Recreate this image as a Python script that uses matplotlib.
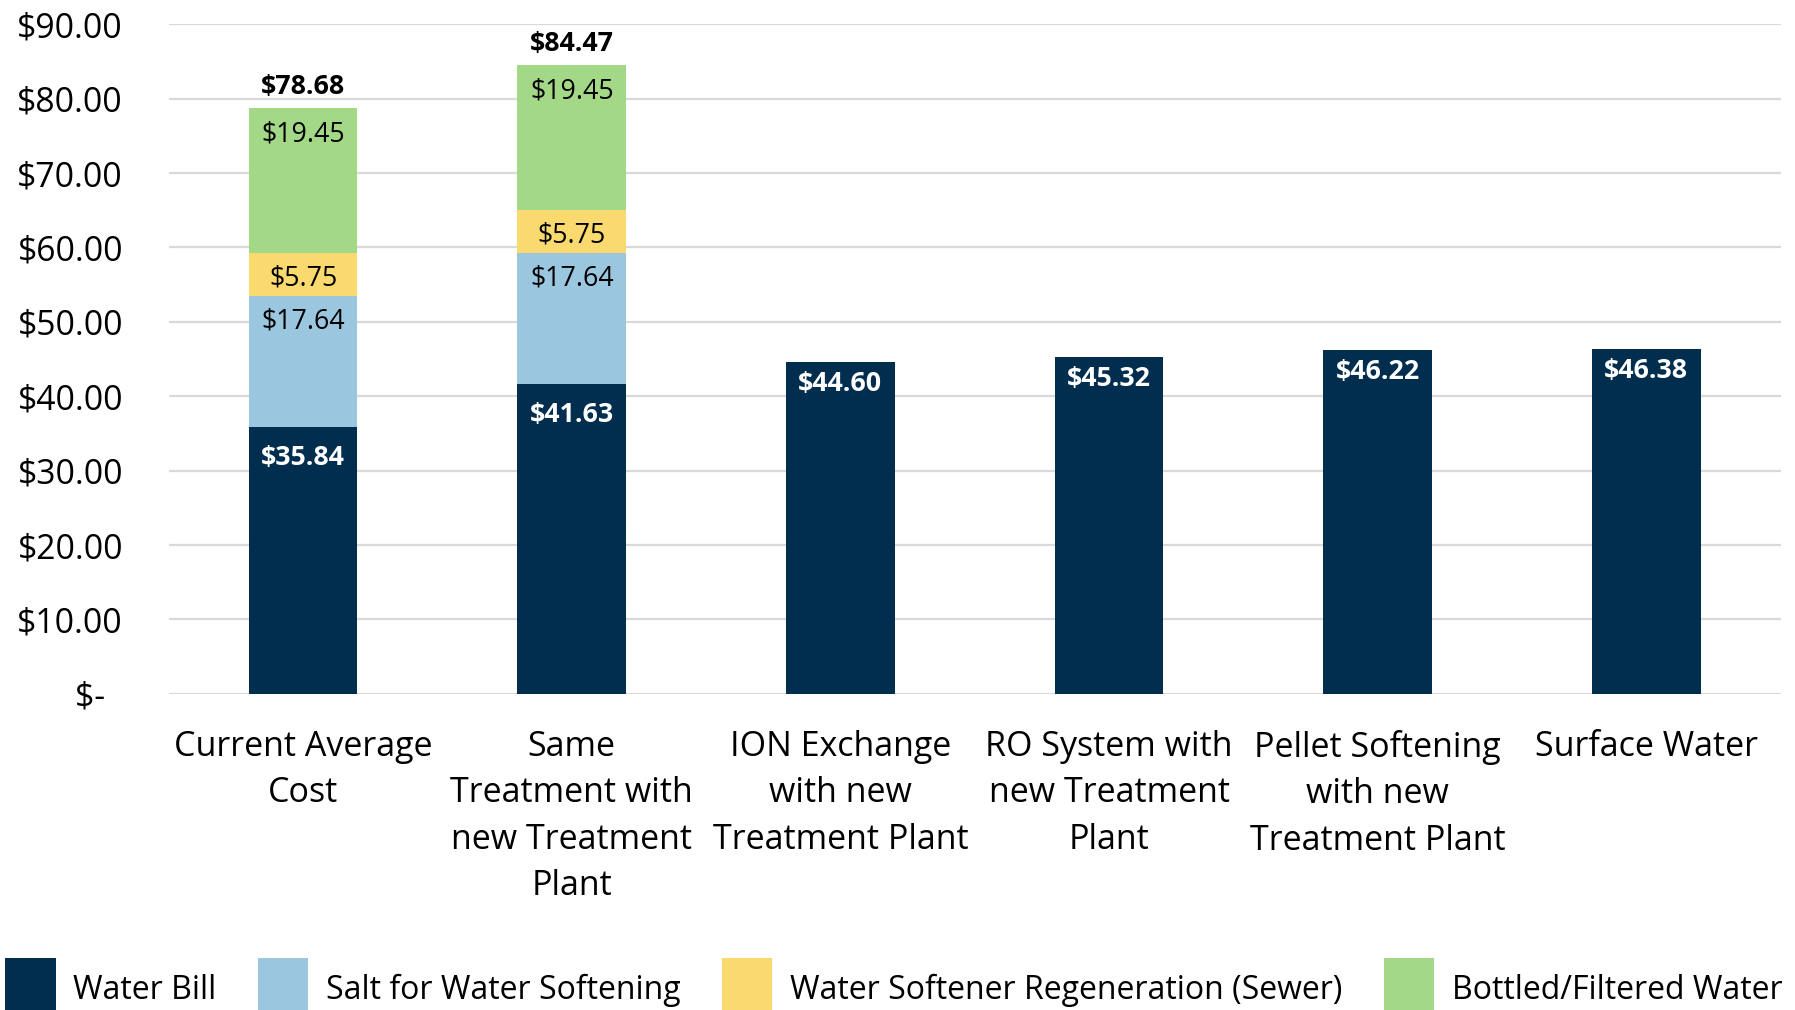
import numpy as np
import matplotlib.pyplot as plt

plt.rcParams['font.family'] = ['Open Sans', 'DejaVu Sans']

categories = ['Current Average\nCost', 'Same\nTreatment with\nnew Treatment\nPlant',
              'ION Exchange\nwith new\nTreatment Plant', 'RO System with\nnew Treatment\nPlant',
              'Pellet Softening\nwith new\nTreatment Plant', 'Surface Water']
water_bill = [35.84, 41.63, 44.60, 45.32, 46.22, 46.38]
salt = [17.64, 17.64, 0, 0, 0, 0]
regen = [5.75, 5.75, 0, 0, 0, 0]
bottled = [19.45, 19.45, 0, 0, 0, 0]
totals = [78.68, 84.47]

series_names = ['Water Bill', 'Salt for Water Softening',
                'Water Softener Regeneration (Sewer)', 'Bottled/Filtered Water']
colors = ['#012d4e', '#9ac6df', '#fada6f', '#a2d886']

fig = plt.figure(figsize=(17.95, 10.10), dpi=100)
ax = fig.add_axes([0.094, 0.313, 0.898, 0.663])

x = np.arange(len(categories))
width = 0.404
series = [water_bill, salt, regen, bottled]
stacked = np.array(salt) > 0
bottom = np.zeros(len(categories))
for i, (vals, name, col) in enumerate(zip(series, series_names, colors)):
    vals = np.array(vals)
    ax.bar(x, vals, width, bottom=bottom, color=col, label=name, zorder=3)
    for xi, v, b in zip(x, vals, bottom):
        if v <= 0:
            continue
        txt = f'${v:.2f}'
        if i == 0:
            off = -22 if stacked[xi] else -16
            ax.annotate(txt, (xi, b + v), xytext=(0, off), textcoords='offset points',
                        ha='center', va='center', color='white', fontweight='bold', fontsize=19.3)
        else:
            ax.annotate(txt, (xi, b + v), xytext=(0, -18.5), textcoords='offset points',
                        ha='center', va='center', color='black', fontsize=19.3)
    bottom = bottom + vals

# totals above the stacked bars
for xi, t in zip(x, totals):
    ax.annotate(f'${t:.2f}', (xi, t), xytext=(0, 6), textcoords='offset points',
                ha='center', va='bottom', fontweight='bold', fontsize=19.3)

ax.set_xlim(-0.5, 5.5)
ax.set_ylim(0, 90)
ax.set_yticks(np.arange(0, 91, 10))
ax.set_yticklabels(['$-  '] + [f'${v:.2f}' for v in np.arange(10, 91, 10)])
ax.set_xticks(x)
ax.set_xticklabels(categories, linespacing=1.48)
ax.tick_params(axis='y', length=0, pad=33, labelsize=24.3)
ax.tick_params(axis='x', length=0, pad=26, labelsize=24.5)
for s in ax.spines.values():
    s.set_visible(False)
ax.grid(axis='y', color='#d9d9d9', lw=1.6, zorder=0)
ax.set_axisbelow(True)

fig.legend(loc='center left', bbox_to_anchor=(0.003, 0.0205, 0.99, 0), mode='expand',
           ncol=4, frameon=False, fontsize=23, handlelength=1.57, handleheight=2.6,
           handletextpad=0.55, borderpad=0, borderaxespad=0)

fig.savefig('out.png', dpi=100)
